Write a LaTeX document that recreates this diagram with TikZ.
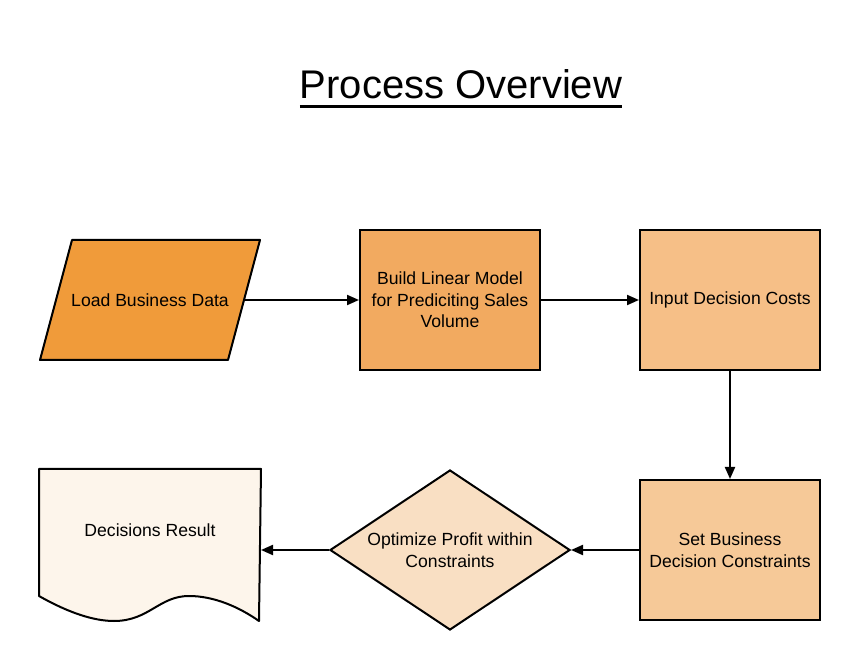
\documentclass[tikz,border=0pt]{standalone}
\usepackage{fontspec}
\setmainfont{Liberation Sans}
\usepackage{tikz}
\usetikzlibrary{shapes,arrows,arrows.meta,backgrounds}
\definecolor{loadorange}{RGB}{240,155,58}
\definecolor{buildorange}{RGB}{242,170,96}
\definecolor{costorange}{RGB}{246,191,135}
\definecolor{constrorange}{RGB}{246,201,152}
\definecolor{optimpeach}{RGB}{249,223,195}
\definecolor{resultcream}{RGB}{253,245,235}
\newcommand\titleline[1]{\setbox0\hbox{#1}\rlap{\rule[-9pt]{\wd0}{2.6pt}}\box0}
\tikzstyle{block} = [rectangle, draw, line width=2pt, align=center,
minimum width=180pt, minimum height=140pt, inner sep=0pt]
\tikzstyle{io} = [rectangle, align=center, minimum width=188pt,
minimum height=120pt, inner sep=0pt, outer sep=0pt]
\tikzstyle{decision} = [diamond, aspect=1.5, draw, line width=2pt, align=center,
minimum width=240pt, minimum height=160pt, inner sep=0pt]
\tikzstyle{docnode} = [rectangle, align=center, minimum width=220pt,
minimum height=120pt, inner sep=0pt, outer sep=1pt]
\tikzstyle{outline} = [draw, line width=2pt, line join=round]
\tikzstyle{line} = [draw, line width=2pt, -{Triangle[length=12pt,width=10pt]}]
\tikzstyle{titletext} = [font=\fontsize{40}{46}\selectfont, inner sep=0pt]

\begin{document}
\begin{tikzpicture}[x=1pt, y=1pt, font=\fontsize{17.6}{21.5}\selectfont]
	\useasboundingbox (0,0) rectangle (860,670);
	% Title
	\node [titletext, anchor=base] (title) at (461,571) {\titleline{Process Overview}};
	% Top row
	\node [io] (load) at (150,370) {Load Business Data};
	\node [block, right of=load, node distance=300pt, fill=buildorange] (build) {Build Linear Model\\for Prediciting Sales\\Volume}; \path [line] (load) -- (build);
	\node [block, right of=build, node distance=280pt, fill=costorange] (costs) {Input Decision Costs}; \path [line] (build) -- (costs);
	% Bottom row
	\node [block, below of=costs, node distance=250pt, fill=constrorange] (constr) {Set Business\\Decision Constraints}; \path [line] (costs) -- (constr);
	\node [decision, left of=constr, node distance=280pt, fill=optimpeach] (optim) {Optimize Profit within\\Constraints}; \path [line] (constr) -- (optim);
	\node [docnode, left of=optim, node distance=300pt, yshift=20pt] (result) {Decisions Result}; \path [line] (optim.west) -- (optim.west -| result.east);
	% Parallelogram and document outlines behind their texts
	\begin{pgfonlayer}{background}
	\draw [outline, fill=loadorange] ([xshift=16pt]load.north west) -- ([xshift=16pt]load.north east)
	  -- ([xshift=-16pt]load.south east) -- ([xshift=-16pt]load.south west) -- cycle;
	\draw [outline, fill=resultcream] (result.north west) -- ([yshift=-5pt]result.south west)
	  .. controls +(30,-17) and +(-20,0) .. ++(75,-25)
	  .. controls +(35,0) and +(-30,0) .. ++(75,25)
	  .. controls +(25,0) and +(-20,14) .. ++(70,-25)
	  -- (result.north east) -- cycle;
	\end{pgfonlayer}
\end{tikzpicture}
\end{document}
